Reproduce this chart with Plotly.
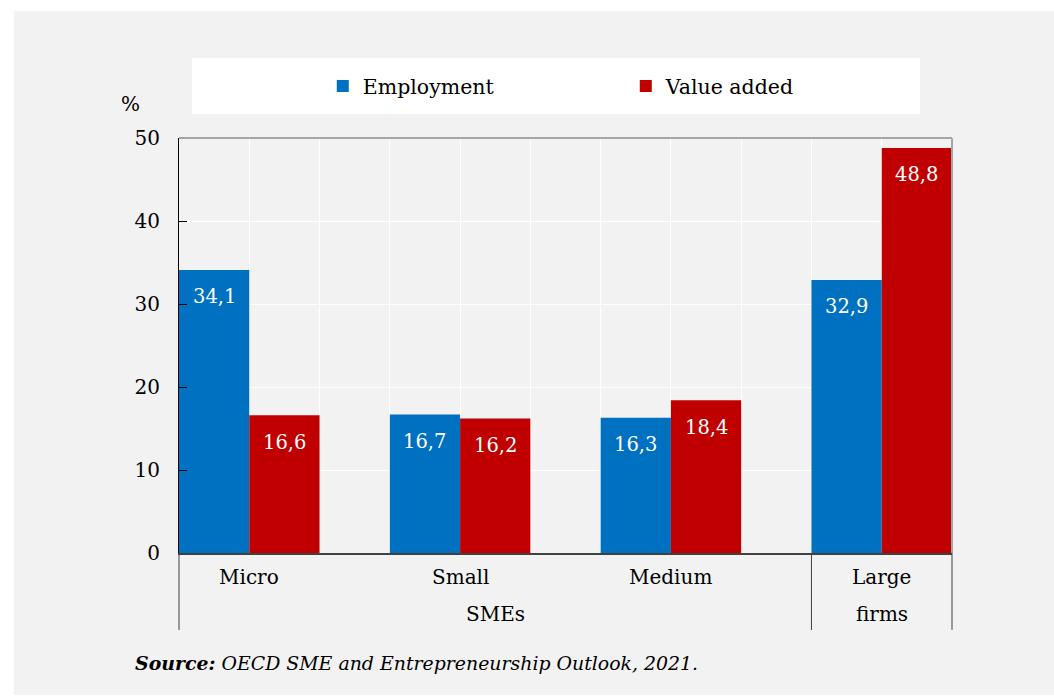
import plotly.graph_objects as go

# Share of employment and value added by enterprise size class (%)
categories = ["Micro", "Small", "Medium", "Large"]
employment = [34.1, 16.7, 16.3, 32.9]
value_added = [16.6, 16.2, 18.4, 48.8]
group_labels = ["SMEs", "Large<br>firms"]
y_ticks = [0, 10, 20, 30, 40, 50]

BLUE = "#0070c0"
RED = "#c00000"
PANEL = "#f2f2f2"
SERIF = "DejaVu Serif, Liberation Serif, serif"

# each category spans 3 slots on a numeric axis: two bars and one gap
centers = [1 + 3 * i for i in range(len(categories))]
emp_x = [c - 0.5 for c in centers]
va_x = [c + 0.5 for c in centers]

fig = go.Figure()
fig.add_trace(go.Bar(x=emp_x, y=employment, name="Employment", width=1,
                     marker=dict(color=BLUE, line=dict(width=0))))
fig.add_trace(go.Bar(x=va_x, y=value_added, name="Value added", width=1,
                     marker=dict(color=RED, line=dict(width=0))))

annotations = []
# value labels just inside the top of each bar
for xs, ys in ((emp_x, employment), (va_x, value_added)):
    for x, y in zip(xs, ys):
        annotations.append(dict(x=x, y=y, xref="x", yref="y",
                                text=f"{y:.1f}".replace(".", ","),
                                showarrow=False, yanchor="middle", yshift=-27,
                                font=dict(family=SERIF, size=19.5, color="white")))

# category labels
label_font = dict(family=SERIF, size=20, color="black")
label_y = -0.058
for c, name in zip(centers[:3], categories[:3]):
    annotations.append(dict(x=c, y=label_y, xref="x", yref="paper", text=name,
                            showarrow=False, yanchor="middle", font=label_font))
annotations.append(dict(x=centers[3], y=label_y, xref="x", yref="paper",
                        text="Large", showarrow=False, yanchor="middle", font=label_font))
annotations.append(dict(x=4.5, y=-0.147, xref="x", yref="paper",
                        text=group_labels[0], showarrow=False, yanchor="middle",
                        font=label_font))
annotations.append(dict(x=10, y=-0.147, xref="x", yref="paper",
                        text="firms", showarrow=False, yanchor="middle", font=label_font))

# unit label and source note
annotations.append(dict(x=-0.063, y=1.082, xref="paper", yref="paper", text="%",
                        showarrow=False, xanchor="center", yanchor="middle",
                        font=label_font))
annotations.append(dict(x=-0.0595, y=-0.265, xref="paper", yref="paper",
                        text="<b><i>Source:</i></b><i> OECD SME and Entrepreneurship Outlook, 2021.</i>",
                        showarrow=False, xanchor="left", yanchor="middle",
                        font=dict(family=SERIF, size=18.9, color="black")))

shapes = [
    # grey panel behind everything
    dict(type="rect", xref="paper", yref="paper", x0=-0.2135, x1=1.2, y0=-0.342, y1=1.306,
         fillcolor=PANEL, line=dict(width=0), layer="below"),
    # white legend band
    dict(type="rect", xref="paper", yref="paper", x0=0.0168, x1=0.9586, y0=1.0578, y1=1.1928,
         fillcolor="white", line=dict(width=0), layer="below"),
    # top and right frame
    dict(type="line", xref="paper", yref="paper", x0=0, x1=1, y0=1, y1=1,
         line=dict(color="#a6a6a6", width=2)),
    dict(type="line", xref="paper", yref="paper", x0=1, x1=1, y0=0, y1=1,
         line=dict(color="#a6a6a6", width=2)),
]
# group dividers below the axis
for xp in (0, 9 / 11, 1):
    shapes.append(dict(type="line", xref="paper", yref="paper", x0=xp, x1=xp,
                       y0=0, y1=-0.1855, line=dict(color="#404040", width=1)))

fig.update_layout(
    width=1054, height=698,
    margin=dict(l=179, r=102, t=138, b=145),
    paper_bgcolor="white", plot_bgcolor=PANEL,
    barmode="overlay",
    showlegend=True,
    legend=dict(orientation="h", x=0.186, y=1.125, xanchor="left", yanchor="middle",
                bgcolor="rgba(0,0,0,0)", entrywidth=258, entrywidthmode="pixels",
                font=dict(family=SERIF, size=20.5, color="black"),
                itemwidth=30, traceorder="normal"),
    xaxis=dict(range=[0, 11], tick0=0, dtick=1, showticklabels=False, ticks="",
               showgrid=True, gridcolor="white", gridwidth=1, zeroline=False,
               showline=True, linecolor="#404040", linewidth=2, fixedrange=True),
    yaxis=dict(range=[0, 50], tickvals=y_ticks, ticks="inside", ticklen=8,
               tickcolor="black", showgrid=True, gridcolor="white", gridwidth=1,
               zeroline=False, showline=True, linecolor="black", linewidth=1,
               ticklabelstandoff=14,
               tickfont=dict(family=SERIF, size=20, color="black")),
    annotations=annotations,
    shapes=shapes,
)

fig.write_html("out.html")
